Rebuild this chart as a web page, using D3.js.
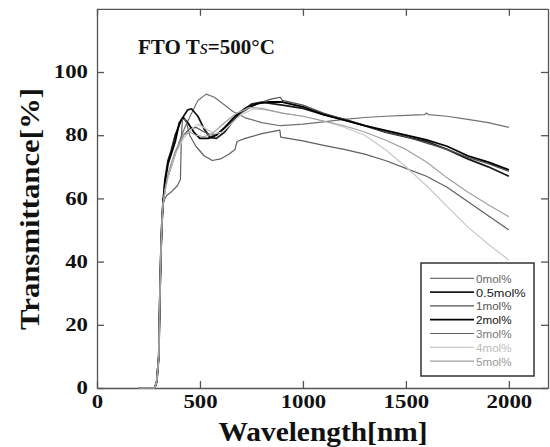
<!DOCTYPE html>
<html>
<head>
<meta charset="utf-8">
<title>FTO transmittance</title>
<script src="https://cdnjs.cloudflare.com/ajax/libs/d3/7.8.5/d3.min.js"></script>
<style>
  body{margin:0;background:#fff;}
  svg{display:block;}
  .ax text{font-family:"Liberation Serif","Times New Roman",serif;font-weight:bold;font-size:18px;fill:#111;}
  .ax path,.ax line{stroke:#555;stroke-width:1.3;}
  .lg text{font-family:"Liberation Sans",Arial,sans-serif;font-size:11.5px;}
</style>
</head>
<body>
<div id="chart"></div>
<script>
// data (wavelength nm, transmittance %)
var legendLabels = ["0mol%","0.5mol%","1mol%","2mol%","3mol%","4mol%","5mol%"];
var xTicks = [0,500,1000,1500,2000];
var yTicks = [0,20,40,60,80,100];

var edge = [[200,0],[280,0],[290,2],[300,10],[305,28],[310,42],[315,52],[320,58]];

var mol0 = [[330,63],[340,66],[360,70],[380,74],[400,78],[430,83],[460,87],[490,91],[530,93],[570,92],[610,90],
  [660,87.5],[720,85.5],[800,84],[890,83],[1000,83.5],[1100,84.2],[1200,85],[1300,85.6],[1400,86],[1500,86.3],
  [1590,86.5],[1600,87],[1610,86.5],[1700,86],[1800,85],[1900,84],[2000,82.5]];
var mol05 = [[330,66],[345,72],[360,75],[380,80],[410,85],[440,88],[460,88.3],[490,86],[520,82],[550,79.2],[580,79],
  [620,81],[660,84.5],[700,87.5],[750,89.8],[800,90.5],[850,90],[900,89.5],[1000,88.5],[1100,86.5],[1200,85],
  [1300,83],[1400,81],[1500,79.5],[1600,78],[1700,75.5],[1800,72.5],[1900,70],[2000,67]];
var mol1 = [[330,62],[340,66],[360,70],[390,76],[420,80],[450,82],[480,82.5],[520,81],[560,80],[600,81],[650,84],
  [700,87],[750,89],[800,90.5],[850,91.5],[890,92],[900,91],[1000,89.5],[1100,87],[1200,85],[1300,83],[1400,81],
  [1500,79.5],[1600,77.5],[1700,75.5],[1800,73],[1900,71],[2000,68.5]];
var mol2 = [[330,65],[345,71],[360,74],[380,78],[400,84],[420,85.5],[440,84],[470,81],[500,79],[540,79],[580,80],
  [620,82.5],[670,86],[720,88.5],[780,90],[830,90.5],[900,90.5],[1000,89],[1100,86.5],[1200,84.8],[1300,83],
  [1400,81.5],[1500,80],[1600,78.5],[1700,76.5],[1800,73.5],[1900,71.5],[2000,69]];
var mol3 = [[330,60],[340,61],[360,62],[390,64],[405,66],[410,80],[415,85],[430,85],[450,80],[480,76.5],[520,73.5],
  [560,72],[600,72.5],[640,74],[670,75.5],[680,78],[720,79],[800,80.5],[888,81.6],[892,79.4],[1000,78.2],
  [1100,76.8],[1200,75.5],[1300,74],[1400,72],[1500,69.5],[1600,67],[1700,63.5],[1800,59],[1900,54.5],[2000,50]];
var mol4 = [[330,62],[350,68],[380,74],[420,79],[460,82],[490,83.5],[530,82],[570,80.5],[610,81],[650,83.5],
  [700,86.5],[760,88.3],[820,88],[900,87],[1000,86],[1100,84.5],[1200,82.5],[1300,80],[1400,75.5],[1500,70],
  [1600,64],[1700,57.5],[1800,51],[1900,45.5],[2000,40.5]];
var mol5 = [[330,63],[350,69],[380,75],[420,80],[450,81],[480,80],[520,79.5],[560,80.5],[620,84],[680,87],
  [740,88.8],[800,88.5],[900,87],[1000,86],[1100,84.5],[1200,83],[1300,81],[1400,78.5],[1500,75.5],[1600,71.5],
  [1700,66.5],[1800,62],[1900,58],[2000,54.2]];

var series = [mol0, mol05, mol1, mol2, mol3, mol4, mol5];
var colors = ["#707070","#1a1a1a","#505050","#000","#606060","#c8c8c8","#a0a0a0"];
var widths = [1.2,1.8,1.2,1.8,1.2,1.2,1.2];
var textColors = ["#666","#222","#555","#111","#777","#bbb","#999"];

var W = 550, H = 447;
var svg = d3.select("#chart").append("svg").attr("width",W).attr("height",H);

var x = d3.scaleLinear().domain([0,2190]).range([97,548]);
var y = d3.scaleLinear().domain([0,120]).range([388,8.8]);

function styleTicks(g){
  g.selectAll(".tick text").each(function(){
    var t = d3.select(this);
    var s = t.text();
    if(s) t.attr("textLength", s.length*11.4).attr("lengthAdjust","spacingAndGlyphs");
  });
}

svg.append("g").attr("class","ax").attr("transform","translate(0,388)")
  .call(d3.axisBottom(x).tickValues(xTicks).tickSize(-7).tickSizeOuter(0).tickPadding(7).tickFormat(d3.format("d")))
  .call(styleTicks);
svg.append("g").attr("class","ax").attr("transform","translate(0,8.8)")
  .call(d3.axisTop(x).tickValues(xTicks).tickSize(-7).tickSizeOuter(0).tickFormat(""));
svg.append("g").attr("class","ax").attr("transform","translate(97,0)")
  .call(d3.axisLeft(y).tickValues(yTicks).tickSize(-7).tickSizeOuter(0).tickPadding(9).tickFormat(d3.format("d")))
  .call(styleTicks);
svg.append("g").attr("class","ax").attr("transform","translate(548,0)")
  .call(d3.axisRight(y).tickValues(yTicks).tickSize(-7).tickSizeOuter(0).tickFormat(""));

var line = d3.line().x(function(d){return x(d[0]);}).y(function(d){return y(d[1]);});

series.forEach(function(s,i){
  svg.append("path")
    .datum(edge.concat(s))
    .attr("d", line)
    .attr("fill","none")
    .attr("stroke", colors[i])
    .attr("stroke-width", widths[i])
    .attr("stroke-linejoin","round");
});

// title
var title = svg.append("text")
  .attr("x",138).attr("y",54)
  .style("font-family","'Liberation Serif','Times New Roman',serif")
  .style("font-weight","bold").style("font-size","21px").attr("fill","#111");
title.append("tspan").text("FTO T");
title.append("tspan").style("font-style","italic").style("font-weight","normal").text("s");
title.append("tspan").text("=500°C");

// axis titles
svg.append("text")
  .attr("x",323).attr("y",441)
  .attr("text-anchor","middle")
  .attr("textLength",209).attr("lengthAdjust","spacingAndGlyphs")
  .style("font-family","'Liberation Serif','Times New Roman',serif")
  .style("font-weight","bold").style("font-size","28px").attr("fill","#111")
  .text("Wavelength[nm]");
svg.append("text")
  .attr("transform","translate(39,209) rotate(-90)")
  .attr("text-anchor","middle")
  .attr("textLength",242).attr("lengthAdjust","spacingAndGlyphs")
  .style("font-family","'Liberation Serif','Times New Roman',serif")
  .style("font-weight","bold").style("font-size","28px").attr("fill","#111")
  .text("Transmittance[%]");

// legend
var lg = svg.append("g").attr("class","lg");
lg.append("rect").attr("x",421).attr("y",263).attr("width",113).attr("height",113)
  .attr("fill","#fff").attr("stroke","#333").attr("stroke-width",1.5);
legendLabels.forEach(function(t,i){
  var yy = 278.3 + i*13.8;
  lg.append("line").attr("x1",430).attr("x2",474).attr("y1",yy).attr("y2",yy)
    .attr("stroke",colors[i]).attr("stroke-width",widths[i]);
  lg.append("text").attr("x",476).attr("y",yy+4.5).attr("fill",textColors[i])
    .attr("textLength", t.length*7.1).attr("lengthAdjust","spacingAndGlyphs")
    .text(t);
});
</script>
</body>
</html>
